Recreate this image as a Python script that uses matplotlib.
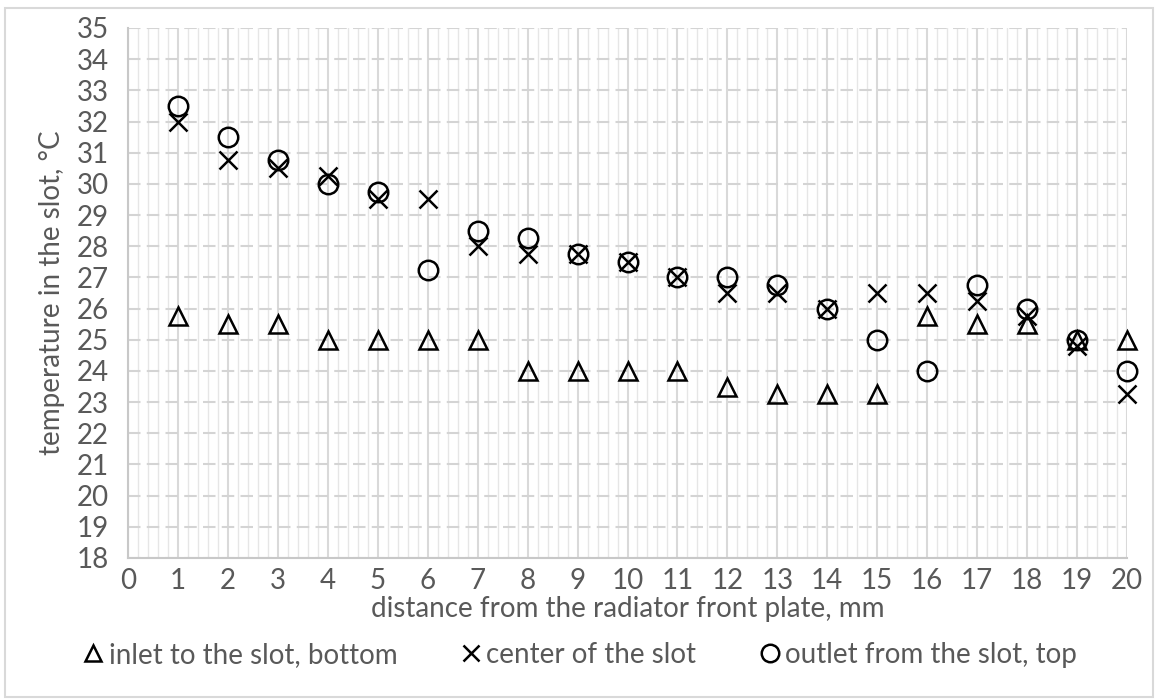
import matplotlib.pyplot as plt
import numpy as np
from matplotlib.patches import Rectangle
from matplotlib.ticker import MultipleLocator

# distance from the radiator front plate, mm
distance = [1, 2, 3, 4, 5, 6, 7, 8, 9, 10, 11, 12, 13, 14, 15, 16, 17, 18, 19, 20]

# temperature in the slot, deg C
inlet_bottom = [25.75, 25.5, 25.5, 25.0, 25.0, 25.0, 25.0, 24.0, 24.0, 24.0,
                24.0, 23.5, 23.25, 23.25, 23.25, 25.75, 25.5, 25.5, 25.0, 25.0]
center = [32.0, 30.75, 30.5, 30.25, 29.5, 29.5, 28.0, 27.75, 27.75, 27.5,
          27.0, 26.5, 26.5, 26.0, 26.5, 26.5, 26.25, 25.75, 24.8, 23.25]
outlet_top = [32.5, 31.5, 30.75, 30.0, 29.75, 27.25, 28.5, 28.25, 27.75, 27.5,
              27.0, 27.0, 26.75, 26.0, 25.0, 24.0, 26.75, 26.0, 25.0, 24.0]

labels = ["inlet to the slot, bottom", "center of the slot", "outlet from the slot, top"]

text_color = "#595959"
plt.rcParams["font.family"] = ["Lato", "DejaVu Sans"]

fig = plt.figure(figsize=(11.58, 7.0), dpi=100)
ax = fig.add_axes([128 / 1158, 1 - 558 / 700, (1127 - 128) / 1158, (558 - 28) / 700])

ax.plot(distance, inlet_bottom, linestyle="none", marker="^", markersize=13,
        markerfacecolor="none", markeredgecolor="black", markeredgewidth=1.8,
        label=labels[0], clip_on=False)
ax.plot(distance, center, linestyle="none", marker="x", markersize=13,
        markeredgecolor="black", markeredgewidth=1.8, label=labels[1], clip_on=False)
ax.plot(distance, outlet_top, linestyle="none", marker="o", markersize=14,
        markerfacecolor="none", markeredgecolor="black", markeredgewidth=1.8,
        label=labels[2], clip_on=False)

ax.set_xlim(0, 20)
ax.set_ylim(18, 35)
ax.xaxis.set_major_locator(MultipleLocator(1))
ax.xaxis.set_minor_locator(MultipleLocator(0.2))
ax.yaxis.set_major_locator(MultipleLocator(1))

ax.grid(which="major", axis="x", color="#d9d9d9", linewidth=1.5)
ax.grid(which="minor", axis="x", color="#e6e6e6", linewidth=1.0)
ax.grid(which="major", axis="y", color="#d4d4d4", linewidth=1.5, linestyle=(0, (6, 3)))
ax.set_axisbelow(True)

for side in ["top", "right"]:
    ax.spines[side].set_visible(False)
for side in ["left", "bottom"]:
    ax.spines[side].set_color("#c8c8c8")
    ax.spines[side].set_linewidth(1.5)

ax.tick_params(which="both", length=0, labelsize=20, colors=text_color)
ax.tick_params(axis="x", pad=7)
ax.tick_params(axis="y", pad=14)

ax.set_xlabel("distance from the radiator front plate, mm", fontsize=20,
              color=text_color, labelpad=2)
ax.set_ylabel("temperature in the slot, °C", fontsize=20, color=text_color, labelpad=8)

fig.legend(loc="lower center", bbox_to_anchor=(0.5, 0.01), ncol=3, frameon=False,
           fontsize=20, labelcolor=text_color, handletextpad=0.1, columnspacing=2.2,
           markerscale=0.9, handlelength=0.9)

fig.patches.append(Rectangle((0.004, 0.004), 0.992, 0.985, transform=fig.transFigure,
                             fill=False, edgecolor="#d9d9d9", linewidth=1.5))

fig.savefig("out.png", dpi=100)
